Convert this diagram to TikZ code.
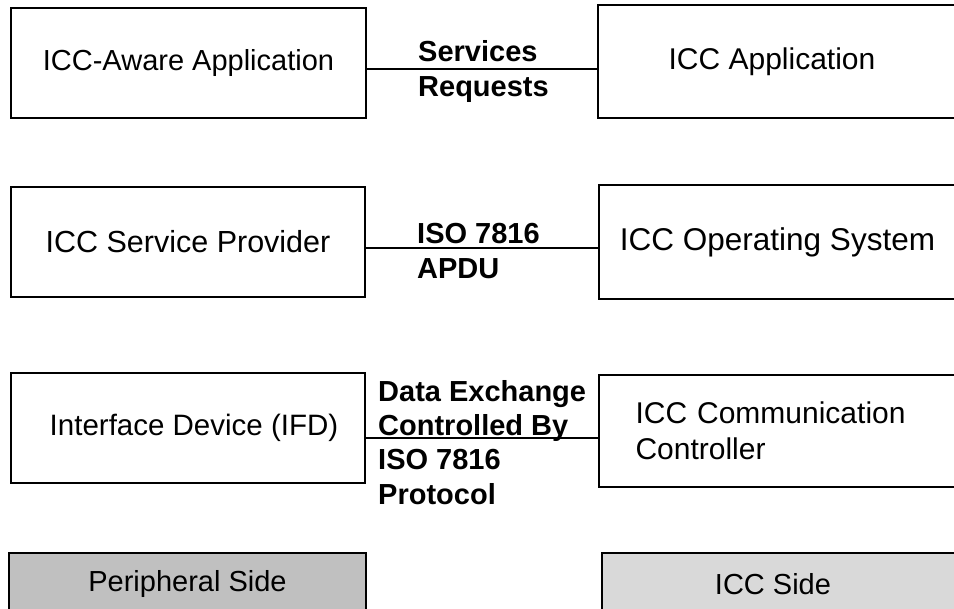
\documentclass[tikz,border=0pt]{standalone}
\usepackage{fontspec}
\setmainfont{Liberation Sans}
\definecolor{periph}{HTML}{C0C0C0}
\definecolor{iccside}{HTML}{D9D9D9}
\begin{document}
\begin{tikzpicture}[x=1pt,y=-1pt,
  layer/.style={draw=black, line width=2.5pt, fill=white, inner sep=0pt,
    font=\fontsize{29}{35}\selectfont},
  sidebox/.style={draw=black, line width=2pt, inner sep=0pt,
    font=\fontsize{29}{35}\selectfont},
  link/.style={draw=black, line width=1.5pt},
  iface/.style={anchor=north west, inner sep=0pt, align=left,
    font=\fontsize{29}{35}\selectfont\bfseries}]
\useasboundingbox (0,0) rectangle (954,609);

% peripheral side (left column)
\node[layer, minimum width=355pt, minimum height=110pt] (aware) at (188.5,63) {ICC-Aware Application};
\node[layer, minimum width=354pt, minimum height=110pt, font=\fontsize{30.5}{35}\selectfont] (provider) at (188,242) {ICC Service Provider};
\node[layer, minimum width=354pt, minimum height=110pt, font=\fontsize{29.5}{35}\selectfont] (ifd) at (188,428) {\hspace*{12pt}Interface Device (IFD)};
\node[sidebox, fill=periph, minimum width=357pt, minimum height=62pt] (pside) at (187.5,584) {Peripheral Side};

% card side (right column, running off the right edge)
\node[layer, minimum width=358pt, minimum height=113pt, font=\fontsize{30}{35}\selectfont] (app) at (777,61.5) {\hspace*{-10pt}ICC Application};
\node[layer, minimum width=357pt, minimum height=114pt, font=\fontsize{31.5}{35}\selectfont] (os) at (777.5,242) {ICC Operating System};
\node[layer, minimum width=357pt, minimum height=112pt, text width=284pt, align=left,
  font=\fontsize{30}{36}\selectfont] (comm) at (777.5,431)
  {ICC Communication\\Controller};
\node[sidebox, fill=iccside, minimum width=354pt, minimum height=62pt] (cside) at (779,584) {\hspace*{-12pt}ICC Side};

% heights of the links between the layers
\coordinate (y1) at (0,69);
\coordinate (y2) at (0,248);
\coordinate (y3) at (0,438);

\draw[link] (aware.east |- y1) -- (app.west |- y1);
\draw[link] (provider.east |- y2) -- (os.west |- y2);
\draw[link] (ifd.east |- y3) -- (comm.west |- y3);

% interface labels
\node[iface] (lab1) at (418,40) {Services\\Requests};
\node[iface] (lab2) at (417,223) {ISO 7816\\APDU};
\node[iface, font=\fontsize{29}{34.3}\selectfont\bfseries] (lab3) at (378,380)
  {Data Exchange\\Controlled By\\ISO 7816\\Protocol};
\end{tikzpicture}
\end{document}
